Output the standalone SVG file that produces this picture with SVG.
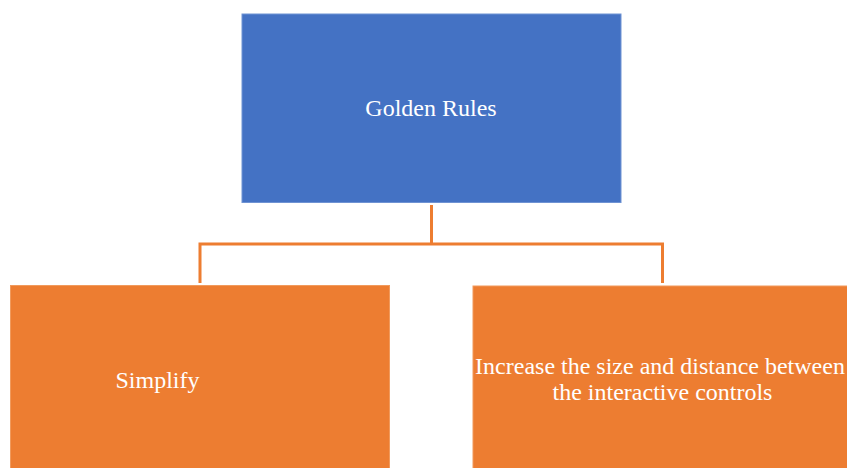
<svg xmlns="http://www.w3.org/2000/svg" width="847" height="468" viewBox="0 0 847 468">
<style>
.lbl{font-family:"Liberation Serif","Times New Roman",serif;font-size:24px;fill:#ffffff;text-anchor:middle}
.conn{fill:none;stroke:#ED7D31;stroke-width:3}
</style>
<rect width="847" height="468" fill="#ffffff"/>
<g id="connectors">
<path class="conn" d="M431.5,205 V244 M200,283 V244 H662.5 V283"/>
</g>
<g id="golden-rules">
<rect x="242" y="14" width="379" height="188.5" fill="#4472C4" stroke="#6f93d3" stroke-width="1"/>
<text class="lbl" x="431" y="116">Golden Rules</text>
</g>
<g id="simplify">
<rect x="10.5" y="285.5" width="379" height="190" fill="#ED7D31" stroke="#f19a5c" stroke-width="1"/>
<text class="lbl" x="157.5" y="388">Simplify</text>
</g>
<g id="increase">
<rect x="473" y="286" width="380" height="190" fill="#ED7D31" stroke="#f19a5c" stroke-width="1"/>
<text class="lbl" x="660" y="374">Increase the size and distance between</text>
<text class="lbl" x="662.5" y="400">the interactive controls</text>
</g>
</svg>
